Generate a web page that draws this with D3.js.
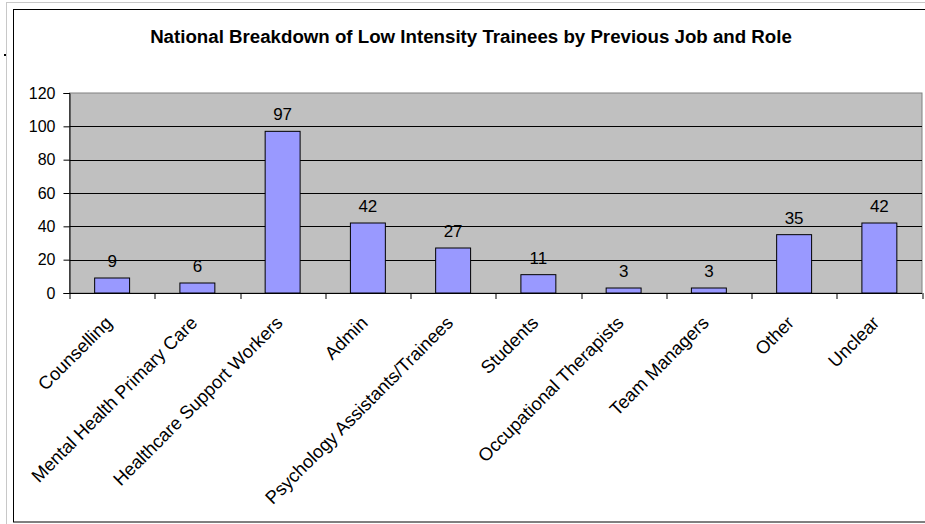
<!DOCTYPE html>
<html>
<head>
<meta charset="utf-8">
<script src="https://cdn.jsdelivr.net/npm/d3@7"></script>
<style>
  body { margin: 0; background: #fff; }
  svg { display: block; font-family: Arial, "Liberation Sans", sans-serif; }
  .axis text { fill: #000; }
</style>
</head>
<body>
<svg id="chart"></svg>
<script>
// Data
const categories = ['Counselling', 'Mental Health Primary Care', 'Healthcare Support Workers', 'Admin',
  'Psychology Assistants/Trainees', 'Students', 'Occupational Therapists', 'Team Managers', 'Other', 'Unclear'];
const values = [9, 6, 97, 42, 27, 11, 3, 3, 35, 42];
const yTicks = [0, 20, 40, 60, 80, 100, 120];
const title = 'National Breakdown of Low Intensity Trainees by Previous Job and Role';

class BarChart {

  constructor(_config, _data) {
    this.config = {
      parentElement: _config.parentElement,
      containerWidth: _config.containerWidth || 925,
      containerHeight: _config.containerHeight || 524,
      margin: _config.margin || {top: 93, right: 3, bottom: 231, left: 69.5},
    }
    this.data = _data;
    this.initVis();
  }

  initVis() {
    let vis = this;

    vis.width = vis.config.containerWidth - vis.config.margin.left - vis.config.margin.right;
    vis.height = vis.config.containerHeight - vis.config.margin.top - vis.config.margin.bottom;

    vis.xScale = d3.scaleBand()
      .range([0, vis.width])
      .paddingInner(0.59)
      .paddingOuter(0.295);

    // band used only for the tick marks between categories
    vis.xTickScale = d3.scaleBand()
      .range([0, vis.width]);

    vis.yScale = d3.scaleLinear()
      .range([vis.height, 0]);

    vis.svg = d3.select(vis.config.parentElement)
      .attr('width', vis.config.containerWidth)
      .attr('height', vis.config.containerHeight);

    // outer frames (page edge + chart border)
    vis.svg.append('rect')
      .attr('x', 6.5).attr('y', 2.5)
      .attr('width', 930).attr('height', 530)
      .attr('fill', 'none').attr('stroke', '#c8c8c8');
    vis.svg.append('rect')
      .attr('x', 13.5).attr('y', 9.5)
      .attr('width', 930).attr('height', 512.5)
      .attr('fill', '#fff').attr('stroke', '#000');
    vis.svg.append('rect')
      .attr('x', 4).attr('y', 54)
      .attr('width', 2).attr('height', 2)
      .attr('fill', '#000');

    vis.svg.append('text')
      .attr('x', 471)
      .attr('y', 43)
      .attr('text-anchor', 'middle')
      .attr('font-size', 18.7)
      .attr('font-weight', 'bold')
      .text(title);

    vis.chart = vis.svg.append('g')
      .attr('transform', `translate(${vis.config.margin.left},${vis.config.margin.top})`);

    vis.chart.append('rect')
      .attr('width', vis.width)
      .attr('height', vis.height)
      .attr('fill', '#c0c0c0')
      .attr('stroke', '#808080');

    vis.gridG = vis.chart.append('g').attr('class', 'grid');
    vis.barsG = vis.chart.append('g');

    vis.xAxisG = vis.chart.append('g')
      .attr('class', 'axis x-axis')
      .attr('transform', `translate(0,${vis.height})`);

    vis.yAxisG = vis.chart.append('g')
      .attr('class', 'axis y-axis');
  }

  updateVis() {
    let vis = this;

    vis.xValue = d => d.category;
    vis.yValue = d => d.value;

    vis.xScale.domain(vis.data.map(vis.xValue));
    vis.xTickScale.domain(d3.range(vis.data.length + 1));
    vis.xTickScale.range([0, vis.width * (vis.data.length + 1) / vis.data.length]);
    vis.yScale.domain([0, 120]);

    vis.renderVis();
  }

  renderVis() {
    let vis = this;

    vis.gridG.selectAll('line')
      .data(yTicks.filter(d => d > 0 && d < 120))
      .join('line')
      .attr('x1', 0)
      .attr('x2', vis.width)
      .attr('y1', d => Math.round(vis.yScale(d)) + 0.5)
      .attr('y2', d => Math.round(vis.yScale(d)) + 0.5)
      .attr('stroke', '#000');

    vis.barsG.selectAll('.bar')
      .data(vis.data)
      .join('rect')
      .attr('class', 'bar')
      .attr('x', d => vis.xScale(vis.xValue(d)))
      .attr('y', d => vis.yScale(vis.yValue(d)))
      .attr('width', vis.xScale.bandwidth())
      .attr('height', d => vis.height - vis.yScale(vis.yValue(d)))
      .attr('fill', '#9999ff')
      .attr('stroke', '#000');

    vis.barsG.selectAll('.label')
      .data(vis.data)
      .join('text')
      .attr('class', 'label')
      .attr('x', d => vis.xScale(vis.xValue(d)) + vis.xScale.bandwidth() / 2)
      .attr('y', d => vis.yScale(vis.yValue(d)) - 11)
      .attr('text-anchor', 'middle')
      .attr('font-size', 17)
      .text(d => d.value);

    // y axis
    vis.yAxis = d3.axisLeft(vis.yScale)
      .tickValues(yTicks)
      .tickSize(6)
      .tickPadding(8);
    vis.yAxisG.call(vis.yAxis)
      .call(g => g.select('.domain').attr('stroke', '#000'))
      .call(g => g.selectAll('text').attr('font-size', 16).attr('font-family', null));

    // x axis: ticks at category boundaries, labels rotated
    vis.xAxisG.selectAll('.domain')
      .data([0])
      .join('line')
      .attr('class', 'domain')
      .attr('x1', 0).attr('x2', vis.width)
      .attr('y1', 0.5).attr('y2', 0.5)
      .attr('stroke', '#000');

    vis.xAxisG.selectAll('.tick-mark')
      .data(d3.range(vis.data.length + 1))
      .join('line')
      .attr('class', 'tick-mark')
      .attr('x1', d => Math.round(vis.xTickScale(d)) + 0.5)
      .attr('x2', d => Math.round(vis.xTickScale(d)) + 0.5)
      .attr('y1', 0)
      .attr('y2', 6)
      .attr('stroke', '#000');

    vis.xAxisG.selectAll('.x-label')
      .data(vis.data)
      .join('text')
      .attr('class', 'x-label')
      .attr('text-anchor', 'end')
      .attr('font-size', 18.3)
      .attr('transform', d => {
        const cx = vis.xScale(vis.xValue(d)) + vis.xScale.bandwidth() / 2 + 1;
        return `translate(${cx},31) rotate(-45)`;
      })
      .text(d => d.category);
  }
}

const data = categories.map((c, i) => ({category: c, value: values[i]}));
const chart = new BarChart({parentElement: '#chart'}, data);
chart.updateVis();
</script>
</body>
</html>
